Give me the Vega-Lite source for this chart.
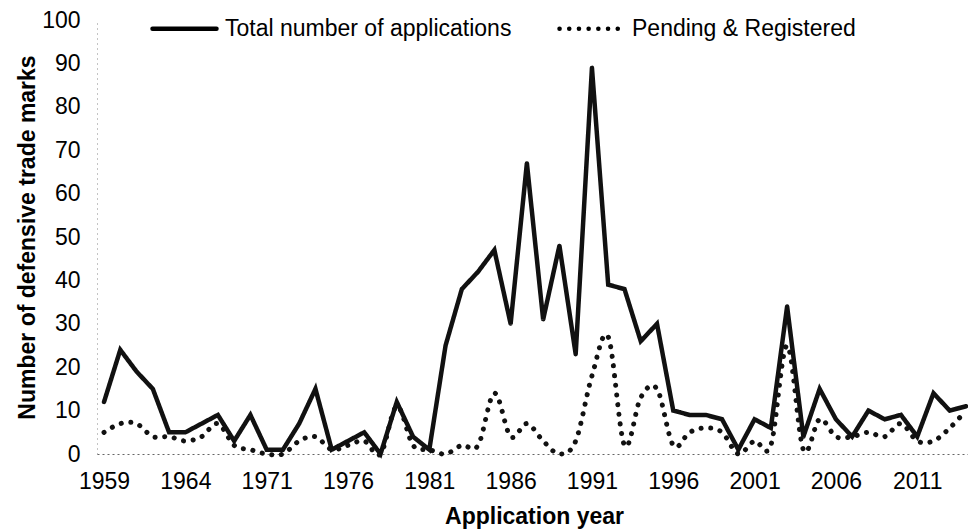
{
  "$schema": "https://vega.github.io/schema/vega-lite/v6.json",
  "width": 871,
  "height": 434,
  "autosize": {"type": "none"},
  "padding": {"left": 97, "top": 20, "right": 0, "bottom": 75},
  "background": "white",
  "config": {
    "view": {"stroke": null},
    "font": "Liberation Sans"
  },
  "datasets": {
    "rows": [
      {"year":"1959","total":12,"pending":5},
      {"year":"1960","total":24,"pending":7},
      {"year":"1961","total":19,"pending":7},
      {"year":"1962","total":15,"pending":4},
      {"year":"1963","total":5,"pending":4},
      {"year":"1964","total":5,"pending":3},
      {"year":"1965","total":7,"pending":4},
      {"year":"1967","total":9,"pending":7},
      {"year":"1969","total":3,"pending":2},
      {"year":"1970","total":9,"pending":1},
      {"year":"1971","total":1,"pending":0},
      {"year":"1972","total":1,"pending":0},
      {"year":"1973","total":7,"pending":3},
      {"year":"1974","total":15,"pending":4},
      {"year":"1975","total":1,"pending":1},
      {"year":"1976","total":3,"pending":2},
      {"year":"1977","total":5,"pending":3},
      {"year":"1978","total":0,"pending":0},
      {"year":"1979","total":12,"pending":11},
      {"year":"1980","total":4,"pending":2},
      {"year":"1981","total":1,"pending":1},
      {"year":"1982","total":25,"pending":0},
      {"year":"1983","total":38,"pending":2},
      {"year":"1984","total":42,"pending":2},
      {"year":"1985","total":47,"pending":14},
      {"year":"1986","total":30,"pending":4},
      {"year":"1987","total":67,"pending":7},
      {"year":"1988","total":31,"pending":3},
      {"year":"1989","total":48,"pending":0},
      {"year":"1990","total":23,"pending":3},
      {"year":"1991","total":89,"pending":18},
      {"year":"1992","total":39,"pending":27},
      {"year":"1993","total":38,"pending":2},
      {"year":"1994","total":26,"pending":13},
      {"year":"1995","total":30,"pending":15},
      {"year":"1996","total":10,"pending":2},
      {"year":"1997","total":9,"pending":5},
      {"year":"1998","total":9,"pending":6},
      {"year":"1999","total":8,"pending":5},
      {"year":"2000","total":1,"pending":0},
      {"year":"2001","total":8,"pending":3},
      {"year":"2002","total":6,"pending":2},
      {"year":"2003","total":34,"pending":25},
      {"year":"2004","total":4,"pending":1},
      {"year":"2005","total":15,"pending":8},
      {"year":"2006","total":8,"pending":4},
      {"year":"2007","total":4,"pending":4},
      {"year":"2008","total":10,"pending":5},
      {"year":"2009","total":8,"pending":4},
      {"year":"2010","total":9,"pending":7},
      {"year":"2011","total":4,"pending":3},
      {"year":"2012","total":14,"pending":3},
      {"year":"2013","total":10,"pending":6},
      {"year":"2014","total":11,"pending":10}
    ]
  },
  "data": {"name": "rows"},
  "transform": [
    {"fold": ["total", "pending"], "as": ["key", "value"]},
    {"calculate": "datum.key === 'total' ? 'Total number of applications' : 'Pending & Registered'", "as": "series"}
  ],
  "encoding": {
    "x": {
      "field": "year",
      "type": "ordinal",
      "scale": {"type": "point", "padding": 0.277, "align": 0.78},
      "axis": {
        "title": "Application year",
        "values": ["1959","1964","1971","1976","1981","1986","1991","1996","2001","2006","2011"],
        "labelAngle": 0,
        "labelFont": "Liberation Sans",
        "labelFontSize": 23,
        "labelColor": "black",
        "labelPadding": 16,
        "ticks": false,
        "domainColor": "#666",
        "domainDash": [2, 3],
        "domainWidth": 1,
        "grid": false,
        "titleFont": "Liberation Sans",
        "titleFontSize": 23,
        "titleFontWeight": "bold",
        "titleColor": "black",
        "titleBaseline": "alphabetic",
        "titleY": 69,
        "titleX": 437
      }
    },
    "y": {
      "field": "value",
      "type": "quantitative",
      "scale": {"domain": [0, 100], "nice": false, "zero": true},
      "axis": {
        "title": "Number of defensive trade marks",
        "values": [0,10,20,30,40,50,60,70,80,90,100],
        "labelFont": "Liberation Sans",
        "labelFontSize": 23,
        "labelColor": "black",
        "labelPadding": 17,
        "ticks": false,
        "domainColor": "#888",
        "domainDash": [1, 4],
        "domainWidth": 1,
        "grid": false,
        "titleFont": "Liberation Sans",
        "titleFontSize": 23,
        "titleFontWeight": "bold",
        "titleColor": "black",
        "titleBaseline": "alphabetic",
        "titleX": -63,
        "titleY": 217
      }
    },
    "strokeDash": {
      "field": "series",
      "type": "nominal",
      "scale": {
        "domain": ["Total number of applications", "Pending & Registered"],
        "range": [[1, 0], [0.1, 9.6]]
      },
      "legend": {
        "title": null,
        "orient": "none",
        "legendX": 53,
        "legendY": -26,
        "direction": "horizontal",
        "symbolType": "stroke",
        "symbolSize": 4096,
        "symbolStrokeWidth": 4.5,
        "symbolStrokeColor": "black",
        "labelFont": "Liberation Sans",
        "labelFontSize": 23,
        "labelColor": "black",
        "labelOffset": 6,
        "labelLimit": 0,
        "columnPadding": 38,
        "padding": 0,
        "encode": {"symbols": {"update": {"strokeCap": {"value": "round"}}}}
      }
    }
  },
  "layer": [
    {
      "transform": [{"filter": "datum.key === 'total'"}],
      "mark": {"type": "line", "color": "#111", "strokeWidth": 4.5, "strokeCap": "round", "strokeJoin": "miter", "interpolate": "linear"}
    },
    {
      "transform": [{"filter": "datum.key === 'pending'"}],
      "mark": {"type": "line", "color": "#111", "strokeWidth": 5, "strokeCap": "round", "interpolate": "cardinal"}
    }
  ]
}
